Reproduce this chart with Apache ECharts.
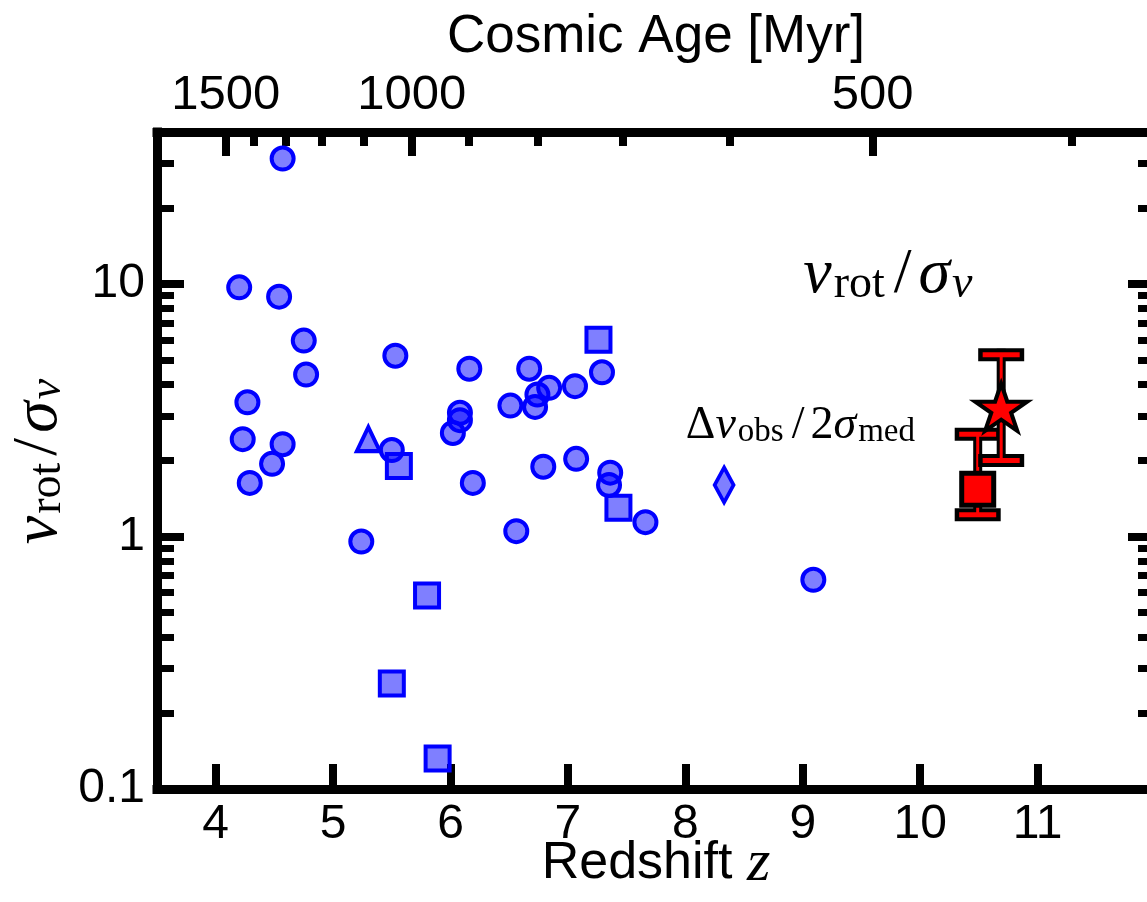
<!DOCTYPE html>
<html>
<head>
<meta charset="utf-8">
<script src="https://cdn.jsdelivr.net/npm/echarts@6/dist/echarts.min.js"></script>
<style>
  html, body { margin: 0; padding: 0; background: #fff; }
  #chart { width: 1147px; height: 902px; }
</style>
</head>
<body>
<div id="chart"></div>
<script>
// Literature sample: redshift and v_rot / sigma_v, grouped by marker shape
const circleZ = [4.57, 4.20, 4.54, 4.75, 4.77, 4.27, 4.23, 4.57, 4.48, 4.29,
                 5.50, 5.53, 6.16, 6.08, 6.08, 6.02, 6.19, 5.24, 6.67, 7.29,
                 6.84, 7.06, 6.74, 6.51, 6.72, 6.79, 7.07, 7.36, 7.35, 7.66,
                 6.56, 9.09];
const circleV = [31.4, 9.70, 8.91, 5.97, 4.38, 3.40, 2.43, 2.32, 1.94, 1.63,
                 2.20, 5.20, 4.62, 3.09, 2.89, 2.57, 1.63, 0.955, 4.62, 4.47,
                 3.88, 3.94, 3.65, 3.30, 3.26, 1.89, 2.03, 1.79, 1.60, 1.14,
                 1.05, 0.674];
const squareZ = [7.26, 5.56, 7.43, 5.80, 5.50, 5.89];
const squareV = [6.01, 1.90, 1.30, 0.584, 0.262, 0.132];
const triangleZ = [5.30];
const triangleV = [2.43];
const diamondZ = [8.33];
const diamondV = [1.60];

// New measurements (red): square and star, with lower / upper bounds
const newSquareZ = [10.49];
const newSquareV = [1.54];
const newSquareLo = [1.22];
const newSquareHi = [2.54];
const newStarZ = [10.69];
const newStarV = [3.18];
const newStarLo = [2.00];
const newStarHi = [5.25];

// Axis ticks
const redshiftTicks = [4, 5, 6, 7, 8, 9, 10, 11];
const ratioTicks = [0.1, 1, 10];
const ratioTickLabels = ['0.1', '1', '10'];
const ratioMinorTicks = [0.2, 0.3, 0.4, 0.5, 0.6, 0.7, 0.8, 0.9,
                         2, 3, 4, 5, 6, 7, 8, 9, 20, 30];
const ageTicks = [1500, 1000, 500];
const ageMinorTicks = [1400, 1300, 1200, 1100, 900, 800, 700, 600, 400];

// Flat LCDM (H0 = 69, Om = 0.3): redshift reached at a given cosmic age in Myr
const OM = 0.3, OL = 0.7, HUBBLE_TIME_MYR = 977.8 / 69 * 1000;
function ageToZ(ageMyr) {
  const s = Math.sinh(ageMyr * 1.5 * Math.sqrt(OL) / HUBBLE_TIME_MYR) / Math.sqrt(OL / OM);
  return Math.pow(s, -2 / 3) - 1;
}
const ageTickZ = ageTicks.map(ageToZ);
const ageMinorTickZ = ageMinorTicks.map(ageToZ);

const zip = (a, b) => a.map((v, i) => [v, b[i]]);

// Five-pointed star outline
function starPath() {
  const pts = [];
  for (let i = 0; i < 10; i++) {
    const a = (-90 + 36 * i) * Math.PI / 180;
    const r = i % 2 === 0 ? 1 : 0.382;
    pts.push((r * Math.cos(a)).toFixed(4) + ' ' + (r * Math.sin(a)).toFixed(4));
  }
  return 'path://M' + pts.join(' L') + ' Z';
}

const SANS = 'Liberation Sans, Arial, sans-serif';
const SERIF = 'Liberation Serif, Times New Roman, serif';
const BLUE_FILL = 'rgba(0,0,255,0.5)';

// Rich-text styles for inline math: italic symbols, roman text, subscripts
function mathRich(size, slashPad) {
  const sub = Math.round(size * 0.72);
  const subLine = Math.round(size * 0.3);
  return {
    it:  { fontFamily: SERIF, fontStyle: 'italic', fontSize: size, lineHeight: size, color: '#000' },
    rm:  { fontFamily: SERIF, fontSize: size, lineHeight: size, color: '#000' },
    sl:  { fontFamily: SERIF, fontSize: size, lineHeight: size, color: '#000', padding: [0, slashPad, 0, slashPad] },
    sub: { fontFamily: SERIF, fontSize: sub, lineHeight: subLine, verticalAlign: 'bottom', color: '#000', padding: [0, 2, 0, 2] },
    subit: { fontFamily: SERIF, fontStyle: 'italic', fontSize: sub, lineHeight: subLine, verticalAlign: 'bottom', color: '#000', padding: [0, 2, 0, 2] }
  };
}

function errorBar(params, api) {
  const x = api.value(0);
  const pLo = api.coord([x, api.value(1)]);
  const pHi = api.coord([x, api.value(2)]);
  const cx = pLo[0];
  const line = (x1, y1, x2, y2, color, w) => ({
    type: 'line', shape: { x1, y1, x2, y2 },
    style: { stroke: color, lineWidth: w, lineCap: 'butt' }
  });
  return {
    type: 'group',
    children: [
      line(cx, pHi[1] - 6, cx, pLo[1] + 6, '#000', 9),
      line(cx - 23, pHi[1], cx + 23, pHi[1], '#000', 13),
      line(cx - 23, pLo[1], cx + 23, pLo[1], '#000', 13),
      line(cx, pHi[1], cx, pLo[1], '#f00', 3),
      line(cx - 18.5, pHi[1], cx + 18.5, pHi[1], '#f00', 5),
      line(cx - 18.5, pLo[1], cx + 18.5, pLo[1], '#f00', 5)
    ]
  };
}

const axisLine = { show: true, lineStyle: { color: '#000', width: 9, cap: 'square' } };

const chart = echarts.init(document.getElementById('chart'), null, { renderer: 'canvas' });

chart.setOption({
  animation: false,
  backgroundColor: '#fff',
  grid: { left: 157, right: -8, top: 132, bottom: 113, containLabel: false, outerBoundsMode: 'none' },
  xAxis: [
    {
      type: 'value', position: 'bottom', min: 3.5, max: 12,
      name: '{t|Redshift }{z|z}', nameLocation: 'middle', nameGap: 45, nameMoveOverlap: false,
      nameTextStyle: {
        rich: {
          t: { fontFamily: SANS, fontSize: 52, color: '#000' },
          z: { fontFamily: SERIF, fontStyle: 'italic', fontSize: 60, color: '#000' }
        }
      },
      axisLine,
      axisTick: { show: true, inside: true, length: 25, customValues: redshiftTicks,
                  lineStyle: { color: '#000', width: 8 } },
      axisLabel: { show: true, customValues: redshiftTicks, margin: 12,
                   fontFamily: SANS, fontSize: 48, color: '#000' },
      splitLine: { show: false }
    },
    {
      type: 'value', position: 'top', min: 3.5, max: 12,
      name: 'Cosmic Age [Myr]', nameLocation: 'middle', nameGap: 68, nameMoveOverlap: false,
      nameTextStyle: { fontFamily: SANS, fontSize: 53, color: '#000' },
      axisLine,
      axisTick: { show: true, inside: true, length: 24, customValues: ageTickZ,
                  lineStyle: { color: '#000', width: 8 } },
      axisLabel: {
        show: true, customValues: ageTickZ, margin: 12,
        fontFamily: SANS, fontSize: 49, color: '#000',
        formatter: (v) => {
          let best = 0;
          ageTickZ.forEach((z, i) => { if (Math.abs(z - v) < Math.abs(ageTickZ[best] - v)) best = i; });
          return String(ageTicks[best]);
        }
      },
      splitLine: { show: false }
    },
    {
      type: 'value', position: 'top', min: 3.5, max: 12,
      axisLine: { show: false },
      axisTick: { show: true, inside: true, length: 14, customValues: ageMinorTickZ,
                  lineStyle: { color: '#000', width: 8 } },
      axisLabel: { show: false },
      splitLine: { show: false }
    }
  ],
  yAxis: [
    {
      type: 'log', logBase: 10, position: 'left', min: 0.1, max: 40,
      name: '{it|v}{sub|rot}{sl|/}{it|σ}{subit|v}', nameLocation: 'middle', nameRotate: 90,
      nameGap: 86, nameMoveOverlap: false,
      nameTextStyle: { rich: mathRich(64, 5) },
      axisLine,
      axisTick: { show: true, inside: true, length: 27, customValues: ratioTicks,
                  lineStyle: { color: '#000', width: 8 } },
      axisLabel: {
        show: true, customValues: ratioTicks, margin: 12,
        fontFamily: SANS, fontSize: 48, color: '#000',
        formatter: (v) => ratioTickLabels[ratioTicks.findIndex(t => Math.abs(t - v) < 1e-9 * t)] || ''
      },
      splitLine: { show: false }
    },
    {
      type: 'log', logBase: 10, position: 'left', min: 0.1, max: 40,
      axisLine: { show: false },
      axisTick: { show: true, inside: true, length: 17, customValues: ratioMinorTicks,
                  lineStyle: { color: '#000', width: 7 } },
      axisLabel: { show: false },
      splitLine: { show: false }
    },
    {
      type: 'log', logBase: 10, position: 'right', min: 0.1, max: 40,
      axisLine,
      axisTick: { show: true, inside: true, length: 27, customValues: ratioTicks,
                  lineStyle: { color: '#000', width: 8 } },
      axisLabel: { show: false },
      splitLine: { show: false }
    },
    {
      type: 'log', logBase: 10, position: 'right', min: 0.1, max: 40,
      axisLine: { show: false },
      axisTick: { show: true, inside: true, length: 17, customValues: ratioMinorTicks,
                  lineStyle: { color: '#000', width: 7 } },
      axisLabel: { show: false },
      splitLine: { show: false }
    }
  ],
  series: [
    {
      type: 'scatter', name: 'circles', z: 2, data: zip(circleZ, circleV),
      symbol: 'circle', symbolSize: 22,
      itemStyle: { color: BLUE_FILL, borderColor: '#00f', borderWidth: 4, opacity: 1 }
    },
    {
      type: 'scatter', name: 'squares', z: 2, data: zip(squareZ, squareV),
      symbol: 'rect', symbolSize: 24,
      itemStyle: { color: BLUE_FILL, borderColor: '#00f', borderWidth: 4, opacity: 1 }
    },
    {
      type: 'scatter', name: 'triangles', z: 2, data: zip(triangleZ, triangleV),
      symbol: 'triangle', symbolSize: [23, 24],
      itemStyle: { color: BLUE_FILL, borderColor: '#00f', borderWidth: 4, opacity: 1 }
    },
    {
      type: 'scatter', name: 'diamonds', z: 2, data: zip(diamondZ, diamondV),
      symbol: 'diamond', symbolSize: [19, 35],
      itemStyle: { color: BLUE_FILL, borderColor: '#00f', borderWidth: 4, opacity: 1 }
    },
    {
      type: 'custom', name: 'square bounds', z: 3, renderItem: errorBar,
      data: newSquareZ.map((z, i) => [z, newSquareLo[i], newSquareHi[i]])
    },
    {
      type: 'scatter', name: 'new square', z: 4, data: zip(newSquareZ, newSquareV),
      symbol: 'rect', symbolSize: 32,
      itemStyle: { color: '#f00', borderColor: '#000', borderWidth: 5, opacity: 1 }
    },
    {
      type: 'custom', name: 'star bounds', z: 5, renderItem: errorBar,
      data: newStarZ.map((z, i) => [z, newStarLo[i], newStarHi[i]])
    },
    {
      type: 'scatter', name: 'new star', z: 6, data: zip(newStarZ, newStarV),
      symbol: starPath(), symbolKeepAspect: true, symbolSize: [52, 49.5], symbolOffset: [0, -2.4],
      itemStyle: { color: '#f00', borderColor: '#000', borderWidth: 4, borderJoin: 'miter', opacity: 1 }
    },
    {
      type: 'scatter', name: 'annotations', z: 7, silent: true,
      symbol: 'circle', symbolSize: 1, itemStyle: { color: 'rgba(0,0,0,0)', opacity: 1 },
      data: [
        { value: [9.0, 10.8], label: {
            show: true, position: 'right', distance: 0, color: '#000',
            formatter: '{it|v}{sub|rot}{sl|/}{it|σ}{subit|v}', rich: mathRich(64, 7) } },
        { value: [8.0, 2.75], label: {
            show: true, position: 'right', distance: 0, color: '#000',
            formatter: '{rm|Δ}{it|v}{sub|obs}{sl|/}{rm|2}{it|σ}{sub|med}', rich: mathRich(46, 6) } }
      ]
    }
  ]
});
</script>
</body>
</html>
